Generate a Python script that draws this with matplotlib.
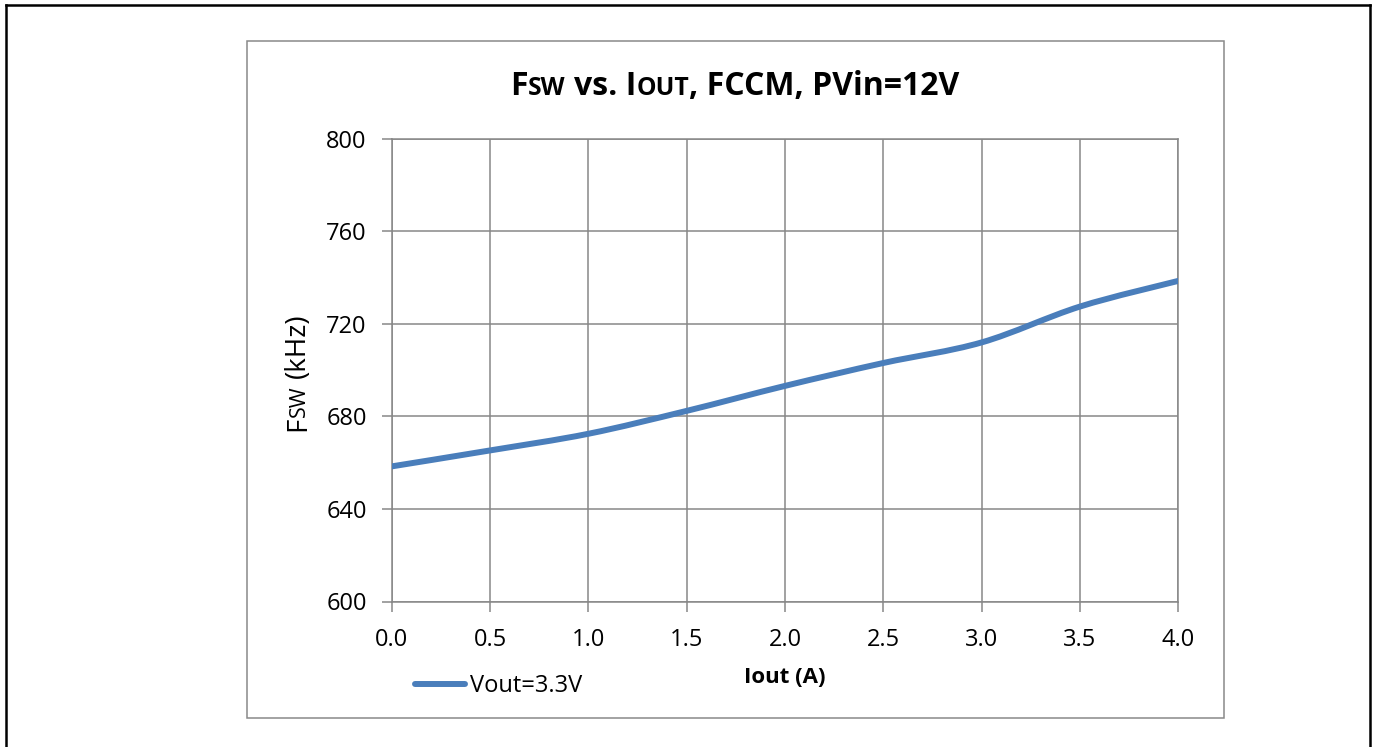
import matplotlib
matplotlib.use('Agg')
import matplotlib.pyplot as plt
from matplotlib.path import Path
from matplotlib.patches import PathPatch, Rectangle
from matplotlib.lines import Line2D
from matplotlib.transforms import IdentityTransform
import numpy as np

# ---- data ----
iout = [0.0, 0.5, 1.0, 1.5, 2.0, 2.5, 3.0, 3.5, 4.0]
fsw = [658.4, 665.3, 672.5, 682.4, 693.2, 703.1, 712.0, 727.5, 738.6]
series_label = 'Vout=3.3V'
xticks = [0.0, 0.5, 1.0, 1.5, 2.0, 2.5, 3.0, 3.5, 4.0]
xtick_labels = ['0.0', '0.5', '1.0', '1.5', '2.0', '2.5', '3.0', '3.5', '4.0']
yticks = [600, 640, 680, 720, 760, 800]
ytick_labels = ['600', '640', '680', '720', '760', '800']

W, H, DPI = 1375, 747, 100
plt.rcParams['font.family'] = ['Open Sans', 'DejaVu Sans']

fig = plt.figure(figsize=(W / DPI, H / DPI), dpi=DPI)
fig.patch.set_facecolor('white')

GRID = '#878787'
BLUE = '#4A7EBB'

# outer black frame (open at bottom) and gray chart frame
ID = IdentityTransform()
for xs, ys in [([6, 6], [747, 5]), ([6, 1370], [5, 5]), ([1370, 1370], [5, 747])]:
    fig.add_artist(Line2D(xs, [H - v for v in ys], transform=ID, color='black', lw=1.8))
fig.add_artist(Rectangle((246.5, H - 717.5), 977, 677, transform=ID, fill=False,
                         edgecolor='#898989', lw=1.1))

ax_l, ax_r, ax_t, ax_b = 391.7, 1178.4, 138.8, 601.5
ax = fig.add_axes([ax_l / W, 1 - ax_b / H, (ax_r - ax_l) / W, (ax_b - ax_t) / H])
ax.set_xlim(xticks[0], xticks[-1])
ax.set_ylim(yticks[0], yticks[-1])
ax.set_xticks(xticks)
ax.set_xticklabels(xtick_labels)
ax.set_yticks(yticks)
ax.set_yticklabels(ytick_labels)
ax.grid(True, color=GRID, lw=1.1)
ax.set_axisbelow(True)
for s in ax.spines.values():
    s.set_color(GRID)
    s.set_linewidth(1.1)
ax.tick_params(axis='both', direction='out', length=7, width=1.1, color=GRID,
               labelsize=17, labelcolor='black')
ax.tick_params(axis='x', pad=12)
ax.tick_params(axis='y', pad=11)

# smoothed line (Excel-style Bezier through data points)
pts = np.column_stack([iout, fsw])
n = len(pts)
verts = [pts[0]]
codes = [Path.MOVETO]
for i in range(n - 1):
    p0 = pts[max(i - 1, 0)]
    p1 = pts[i]
    p2 = pts[i + 1]
    p3 = pts[min(i + 2, n - 1)]
    c1 = p1 + (p2 - p0) / 6.0
    c2 = p2 - (p3 - p1) / 6.0
    verts += [c1, c2, p2]
    codes += [Path.CURVE4] * 3
ax.add_patch(PathPatch(Path(verts, codes), fill=False, edgecolor=BLUE, lw=4.3,
                       capstyle='round', joinstyle='round', zorder=3))

# legend
handle = Line2D([], [], color=BLUE, lw=4.3, solid_capstyle='round')
ax.legend(handles=[handle], labels=[series_label], loc='center left',
          bbox_to_anchor=(415 / W, 1 - 686 / H), bbox_transform=fig.transFigure,
          frameon=False, fontsize=17, handlelength=2.1, handletextpad=0.25,
          borderpad=0, borderaxespad=0)

# ---- rich text helper (small caps pieces) ----
renderer = fig.canvas.get_renderer()


def measure(s, size, weight):
    t = fig.text(0, 0, s, fontsize=size, fontweight=weight)
    w = t.get_window_extent(renderer).width
    t.remove()
    return w


def space_w(size, weight):
    return measure('x x', size, weight) - measure('xx', size, weight)


def rich(pieces, x, y, rotation=0):
    widths = []
    for s, size, weight, sp in pieces:
        widths.append((space_w(size, weight) if sp else 0.0, measure(s, size, weight)))
    total = sum(g + w for g, w in widths)
    pos = -total / 2
    for (s, size, weight, sp), (g, w) in zip(pieces, widths):
        pos += g
        if rotation == 0:
            fig.text(x + pos, H - y, s, fontsize=size, fontweight=weight,
                     transform=ID, ha='left', va='baseline')
        else:
            fig.text(x, H - y + pos, s, fontsize=size, fontweight=weight,
                     transform=ID, ha='left', va='baseline', rotation=90,
                     rotation_mode='anchor')
        pos += w


# title
rich([('F', 23, 'bold', False), ('SW', 17.8, 'bold', False),
      ('vs. I', 23, 'bold', True), ('OUT', 17.8, 'bold', False),
      (', FCCM, PVin=12V', 23, 'bold', False)], 735, 95)

# y label
rich([('F', 20, 'normal', False), ('SW', 15.5, 'normal', False),
      ('(kHz)', 20, 'normal', True)], 305, 372, rotation=90)

# x label
fig.text(785, H - 683, 'Iout (A)', fontsize=16, fontweight='bold', transform=ID,
         ha='center', va='baseline')

fig.savefig('out.png', dpi=DPI)
